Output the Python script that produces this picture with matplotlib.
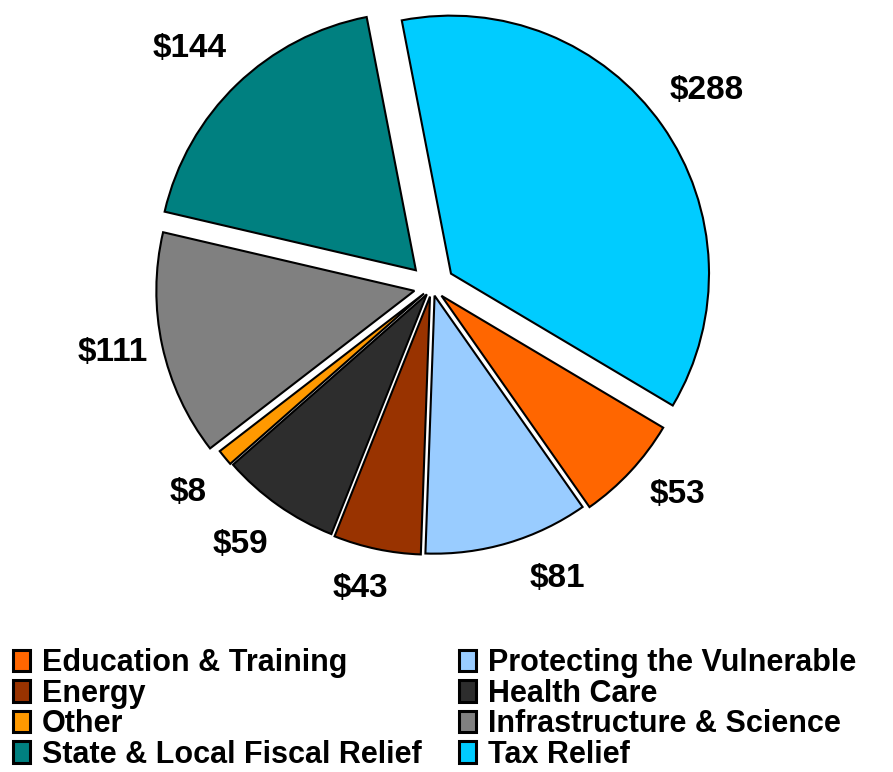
import numpy as np
import matplotlib
matplotlib.use("Agg")
import matplotlib.pyplot as plt
from matplotlib.patches import Patch

plt.rcParams['font.family'] = ['Liberation Sans', 'DejaVu Sans']

# slices in clockwise order starting at the top
names = ['Tax Relief', 'Education & Training', 'Protecting the Vulnerable', 'Energy',
         'Health Care', 'Other', 'Infrastructure & Science', 'State & Local Fiscal Relief']
values = [288, 53, 81, 43, 59, 8, 111, 144]
colors = ['#00CCFF', '#FF6600', '#99CCFF', '#993300',
          '#2D2D2D', '#FF9900', '#808080', '#008080']
explode_frac = [0.09, 0.05, 0.035, 0.038, 0.035, 0.04, 0.07, 0.09]
labels = ['$288', '$53', '$81', '$43', '$59', '$8', '$111', '$144']

# label spots (pixel coords, y from top)
label_xy = [(707, 90), (677, 495), (557, 578), (360, 588),
            (240, 545), (188, 492), (113, 352), (190, 48)]

legend_col1 = ['Education & Training', 'Energy', 'Other', 'State & Local Fiscal Relief']
legend_col2 = ['Protecting the Vulnerable', 'Health Care', 'Infrastructure & Science', 'Tax Relief']

W, H = 893, 772
R = 258
fig = plt.figure(figsize=(W / 100, H / 100), dpi=100)
ax = fig.add_axes([0, 0, 1, 1])

# explode in pie is in data units, so scale by the radius
ax.pie(values, colors=colors, explode=[e * R for e in explode_frac],
       startangle=101, counterclock=False,
       center=(432, H - 287), radius=R,
       wedgeprops=dict(edgecolor='black', linewidth=1.5))

for lab, (x, y) in zip(labels, label_xy):
    ax.text(x, H - y, lab, ha='center', va='center', fontsize=24, fontweight='bold')

ax.set_xlim(0, W)
ax.set_ylim(0, H)
ax.set_aspect('equal')
ax.axis('off')

col = dict(zip(names, colors))
for names_col, x0 in [(legend_col1, 13), (legend_col2, 459)]:
    handles = [Patch(facecolor=col[n], edgecolor='black', linewidth=2.2, label=n) for n in names_col]
    fig.legend(handles=handles, ncol=1, loc='upper left', bbox_to_anchor=(x0 / W, 1 - 648 / H),
               frameon=False, borderpad=0, borderaxespad=0,
               prop=dict(weight='bold', size=22), handlelength=0.56, handleheight=0.7,
               handletextpad=0.38, labelspacing=0.02)

fig.savefig('out.png', dpi=100)
